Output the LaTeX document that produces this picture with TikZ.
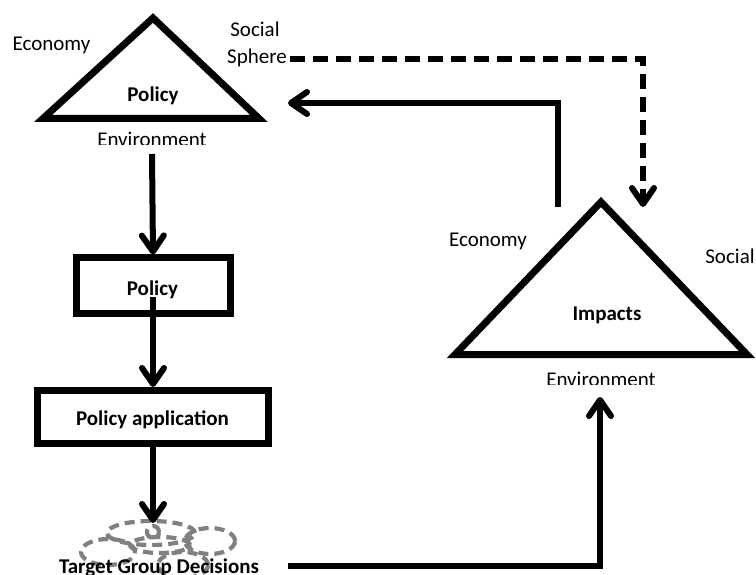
\documentclass[tikz,border=0pt]{standalone}
\usepackage{fontspec}
\setmainfont{Carlito}
\usetikzlibrary{arrows.meta}
\begin{document}
\begin{tikzpicture}[x=1pt,y=-1pt,
  lbl/.style={font=\fontsize{21}{25}\selectfont, inner sep=0pt, anchor=base},
  blbl/.style={font=\fontsize{21}{25}\selectfont\bfseries, inner sep=0pt, anchor=base},
  tri/.style={draw, line width=7pt, line join=miter},
  boxst/.style={draw, line width=7pt, inner sep=0pt},
  conn/.style={line width=6pt, -{Straight Barb[length=16pt,width=22pt,round]}},
  dconn/.style={conn, dash pattern=on 15pt off 8pt},
  cloudst/.style={draw=gray, line width=4.2pt, dash pattern=on 10pt off 6pt},
]
\useasboundingbox (0,0) rectangle (756,575);

% Policy triangle
\coordinate (pA) at (153,18);
\coordinate (pL) at (43,118.5);
\coordinate (pR) at (259,118.5);
\draw[tri] (pA) -- (pL) -- (pR) -- cycle;
\node[blbl] (ptext) at (153,101.5) {Policy};
\node[lbl] (pecon) at (51.5,51) {Economy};
\node[lbl] (psoc) at (255,37) {Social};
\node[lbl] (psph) at (257,64) {Sphere};
\begin{scope}
  \clip (0,0) rectangle (756,145);
  \node[lbl] (penv) at (152,147) {Environment};
\end{scope}

% Impacts triangle
\coordinate (iA) at (601,202);
\coordinate (iL) at (455,354.5);
\coordinate (iR) at (747,354.5);
\draw[tri] (iA) -- (iL) -- (iR) -- cycle;
\node[blbl] (itext) at (607,320) {Impacts};
\node[lbl] (iecon) at (488,247) {Economy};
\node[lbl] (isoc) at (730,263) {Social};
\begin{scope}
  \clip (0,0) rectangle (756,384);
  \node[lbl] (ienv) at (601,386.5) {Environment};
\end{scope}

% Boxes
\node[boxst, minimum width=154pt, minimum height=55pt] (pbox) at (153,285.5) {};
\node[blbl] (pboxt) at (152.5,295) {Policy};
\node[boxst, minimum width=231pt, minimum height=53pt] (abox) at (153,417) {};
\node[blbl] (aboxt) at (152.5,425) {Policy application};

% Target group cloud
\draw[cloudst] (151,533) ellipse [x radius=44pt, y radius=12pt];
\draw[cloudst] (210,541) ellipse [x radius=25pt, y radius=13pt];
\draw[cloudst] (108,552) ellipse [x radius=27pt, y radius=13pt];
\draw[cloudst] (183,565) ellipse [x radius=25pt, y radius=13pt];
\draw[cloudst] (160,545) ellipse [x radius=30pt, y radius=8pt];
\draw[cloudst] (153,532) circle [radius=6pt];
\node[blbl] (tgd) at (159,573) {Target Group Decisions};

% connector end points
\coordinate (pEnvB) at (152,154);
\coordinate (pboxIn) at (153,297);
\coordinate (cloudTop) at (153,523);
\coordinate (tgdR) at (288,566);
\coordinate (iEnvB) at (600,397);
\coordinate (iOut) at (558,207);
\coordinate (pTriR) at (288,103);
\coordinate (sphR) at (290,59);
\coordinate (iTop) at (643,207);

% connectors
\draw[conn] (pEnvB) -- (pbox.north);
\draw[conn] (pboxIn) -- (abox.north);
\draw[conn] (abox.south) -- (cloudTop);
\draw[conn] (tgdR) -| (iEnvB);
\draw[conn] (iOut) |- (pTriR);
\draw[dconn] (sphR) -| (iTop);
\end{tikzpicture}
\end{document}
